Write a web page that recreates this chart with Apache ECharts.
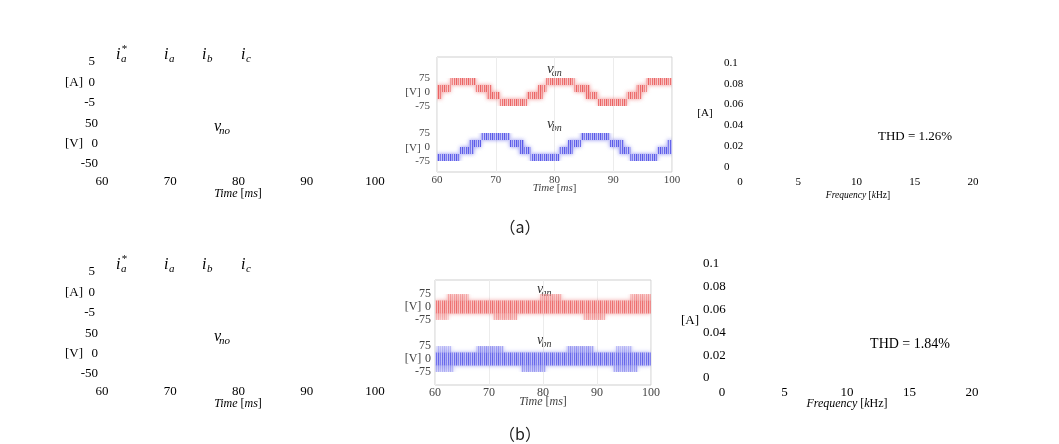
<!DOCTYPE html>
<html><head><meta charset="utf-8">
<script src="https://cdn.jsdelivr.net/npm/echarts@6/dist/echarts.min.js"></script>
<style>html,body{margin:0;padding:0;background:#fff}#c{width:1059px;height:444px}</style>
</head><body><div id="c"></div>
<script>
// ---- data ----
const timeRange = [60, 100];      // ms, ticks every 10
const freqRange = [0, 20];        // kHz, ticks every 5
const currentRange = [-5, 5];     // A
const voltRange = [-50, 50];      // V
const phaseRange = [-75, 75];     // V
const harmRange = [0, 0.1];       // A
const thdLabels = ['THD = 1.26%', 'THD = 1.84%'];
const panelTags = ['（a）', '（b）'];
// PWM bands: [tStart, tEnd, lowLevel, highLevel, density]
const vanA = [
  [60.0,60.8,-37.5,37.5,1],[60.8,62.3,0,37.5,1],[62.3,66.6,37.5,75,1],[66.6,68.5,0,37.5,1],
  [68.5,69.3,-37.5,37.5,1],[69.3,70.7,-37.5,0,1],[70.7,75.3,-75,-37.5,1],[75.3,77.2,-37.5,0,1],
  [77.2,78.0,-37.5,37.5,1],[78.0,78.6,0,37.5,1],[78.6,83.4,37.5,75,1],[83.4,85.3,0,37.5,1],
  [85.3,86.0,-37.5,37.5,1],[86.0,87.4,-37.5,0,1],[87.4,92.3,-75,-37.5,1],[92.3,94.0,-37.5,0,1],
  [94.0,94.8,-37.5,37.5,1],[94.8,95.7,0,37.5,1],[95.7,100,37.5,75,1]
];
const vbnA = [
  [60.0,63.9,-75,-37.5,1],[63.9,65.5,-37.5,0,1],[65.5,66.3,-37.5,37.5,1],[66.3,67.5,0,37.5,1],
  [67.5,72.4,37.5,75,1],[72.4,74.0,0,37.5,1],[74.0,74.8,-37.5,37.5,1],[74.8,75.9,-37.5,0,1],
  [75.9,80.8,-75,-37.5,1],[80.8,82.3,-37.5,0,1],[82.3,83.1,-37.5,37.5,1],[83.1,84.5,0,37.5,1],
  [84.5,89.4,37.5,75,1],[89.4,91.0,0,37.5,1],[91.0,91.8,-37.5,37.5,1],[91.8,92.9,-37.5,0,1],
  [92.9,97.5,-75,-37.5,1],[97.5,99.2,-37.5,0,1],[99.2,100,-37.5,37.5,1]
];
const vanB = [
  [60,100,-37.5,37.5,0.85],
  [62.2,66.2,37.5,75,0.5],[79.5,83.5,37.5,75,0.5],[96.2,100,37.5,75,0.5],
  [60,62.5,-75,-37.5,0.4],[70.8,75.2,-75,-37.5,0.5],[87.5,91.5,-75,-37.5,0.5]
];
const vbnB = [
  [60,100,-37.5,37.5,0.85],
  [60.3,63,37.5,75,0.35],[67.7,72.7,37.5,75,0.5],[84.4,89.4,37.5,75,0.5],[93.5,96.5,37.5,75,0.35],
  [60,63.5,-75,-37.5,0.4],[76,80.5,-75,-37.5,0.5],[93,97.5,-75,-37.5,0.5]
];

// ---- styling helpers ----
function stripes(cols){
  const c=document.createElement('canvas'); c.width=cols.length; c.height=1;
  const g=c.getContext('2d'); cols.forEach((col,i)=>{g.fillStyle=col; g.fillRect(i,0,1,1);});
  return {image:c, repeat:'repeat'};
}
const redFill = stripes(['#ea6464','#f6b4b4','#f08484','#f9cccc','#ec7070','#f7bcbc']);
const blueFill = stripes(['#5a5ae8','#b0b0f5','#7a7aee','#c8c8f8','#6464ea','#b8b8f6']);
const serif = '"Liberation Serif","Times New Roman",serif';

function bandSeries(data, idx, fill, glow){
  return {type:'custom', xAxisIndex:idx, yAxisIndex:idx, data, silent:true, animation:false, clip:true,
    encode:{x:[0,1], y:[2,3]},
    renderItem(params, api){
      const a=api.coord([api.value(0), api.value(3)]);
      const b=api.coord([api.value(1), api.value(2)]);
      return {type:'rect', shape:{x:a[0], y:a[1], width:b[0]-a[0], height:b[1]-a[1]},
        style:{fill, opacity:api.value(4), shadowBlur:4, shadowColor:glow}};
    }};
}

const grids=[], xAxes=[], yAxes=[], series=[], graphics=[];
function addGrid(g, x, y){ grids.push(g); xAxes.push(Object.assign({gridIndex:grids.length-1, type:'value'}, x)); yAxes.push(Object.assign({gridIndex:grids.length-1, type:'value'}, y)); return grids.length-1; }
const hidden = {show:false};
function txt(x,y,text,opt){ graphics.push({type:'text', x, y, silent:true, style:Object.assign({text, fill:'#000', font:'13px '+serif, align:'center', verticalAlign:'middle'}, opt||{})}); }
function subLabel(x,y,main,sub,size,subSize,col,star){
  txt(x,y,main,{font:'italic '+size+'px '+serif, align:'left', fill:col});
  txt(x+size*0.32,y+size*0.28,sub,{font:'italic '+subSize+'px '+serif, align:'left', fill:col});
  if(star) txt(x+size*0.36,y-size*0.38,'*',{font:subSize+'px '+serif, align:'left', fill:col});
}
function plainAxis(min,max,interval,labelOpt){
  return {min, max, interval, axisLine:{show:false}, axisTick:{show:false}, splitLine:{show:false},
    axisLabel:Object.assign({fontFamily:serif, fontSize:13, color:'#000'}, labelOpt)};
}

// two panels
const P = [
  {dy:0, mid:{left:437,w:235,top:57,h:115,aTop:78,bTop:133,ch:28, fs:11, lblM:3}, right:{left:740,w:233,top:63,h:104,fs:11,xM:10,yM:16}, vanData:vanA, vbnData:vbnA},
  {dy:210, mid:{left:435,w:216,top:280,h:105,aTop:294,bTop:346,ch:26, fs:12, lblM:2}, right:{left:722,w:250,top:264,h:114,fs:13,xM:8,yM:19}, vanData:vanB, vbnData:vbnB}
];
P.forEach((p,k)=>{
  const dy=p.dy;
  // left panel: current and voltage (labels only)
  addGrid({left:102, top:62+dy, width:273, height:41}, Object.assign({min:timeRange[0],max:timeRange[1],interval:10}, hidden),
    plainAxis(currentRange[0],currentRange[1],5,{margin:7}));
  addGrid({left:102, top:124+dy, width:273, height:40},
    plainAxis(timeRange[0],timeRange[1],10,{margin:11}),
    plainAxis(voltRange[0],voltRange[1],50,{margin:4}));
  // middle frame
  const m=p.mid;
  addGrid({left:m.left, top:m.top, width:m.w, height:m.h, show:true, borderColor:'#cfcfcf', borderWidth:1},
    {min:timeRange[0], max:timeRange[1], interval:10, axisLine:{show:false}, axisTick:{show:false},
     splitLine:{show:true, lineStyle:{color:'#ececec', width:1}},
     axisLabel:{fontFamily:serif, fontSize:m.fs, color:'#444', margin:m.lblM}},
    Object.assign({min:0,max:1}, hidden));
  const ia=addGrid({left:m.left, top:m.aTop, width:m.w, height:m.ch}, Object.assign({min:timeRange[0],max:timeRange[1]}, hidden),
    plainAxis(phaseRange[0],phaseRange[1],75,{margin:k?4:7, fontSize:m.fs, color:'#444'}));
  series.push(bandSeries(p.vanData, ia, redFill, 'rgba(236,100,100,0.7)'));
  const ib=addGrid({left:m.left, top:m.bTop, width:m.w, height:m.ch}, Object.assign({min:timeRange[0],max:timeRange[1]}, hidden),
    plainAxis(phaseRange[0],phaseRange[1],75,{margin:k?4:7, fontSize:m.fs, color:'#444'}));
  series.push(bandSeries(p.vbnData, ib, blueFill, 'rgba(100,100,236,0.7)'));
  // right panel: harmonic spectrum axes
  const r=p.right;
  addGrid({left:r.left, top:r.top, width:r.w, height:r.h},
    plainAxis(freqRange[0],freqRange[1],5,{fontSize:r.fs, margin:r.xM}),
    plainAxis(harmRange[0],harmRange[1],0.02,{fontSize:r.fs, margin:r.yM, align:'left'}));

  // texts
  subLabel(116,55+dy,'i','a',16,11,'#000',true);
  subLabel(164,55+dy,'i','a',16,11,'#000');
  subLabel(202,55+dy,'i','b',16,11,'#000');
  subLabel(241,55+dy,'i','c',16,11,'#000');
  subLabel(214,127+dy,'v','no',16,11,'#000');
  txt(74,83+dy,'[A]');
  txt(74,144+dy,'[V]');
  txt(238,194+dy,'{i|Time} [{i|ms}]',{font:'12px '+serif, rich:{i:{fontStyle:'italic', fontFamily:serif, fontSize:12}}});
  // middle texts
  const vx=k?537:547, c='#333';
  subLabel(vx,(k?289:69),'v','an',k?14:15,10,c);
  subLabel(vx,(k?340:124),'v','bn',k?14:15,10,c);
  txt(413,(k?307:92),'[V]',{font:m.fs+'px '+serif, fill:'#444'});
  txt(m.left+m.w/2,(k?402:188),'{i|Time} [{i|ms}]',{font:m.fs+'px '+serif, fill:'#444', rich:{i:{fontStyle:'italic', fontFamily:serif, fontSize:m.fs}}});
  txt(413,(k?359:148),'[V]',{font:m.fs+'px '+serif, fill:'#444'});
  // right texts
  txt(k?690:705,(k?321:113),'[A]',{font:r.fs+'px '+serif});
  txt(k?847:858,(k?404:195),'{i|Frequency} [{i|k}Hz]',{font:(k?12:9.5)+'px '+serif, rich:{i:{fontStyle:'italic', fontFamily:serif, fontSize:k?12:9.5}}});
  txt(k?910:915,(k?344:137),thdLabels[k],{font:(k?14:13)+'px '+serif});
  txt(520,227+dy-(k?3:0),panelTags[k],{font:'16px "Noto Sans CJK KR",sans-serif', fill:'#222'});
});

const chart = echarts.init(document.getElementById('c'), null, {renderer:'canvas'});
chart.setOption({animation:false, backgroundColor:'#fff', grid:grids, xAxis:xAxes, yAxis:yAxes, series, graphic:graphics});
</script></body></html>
